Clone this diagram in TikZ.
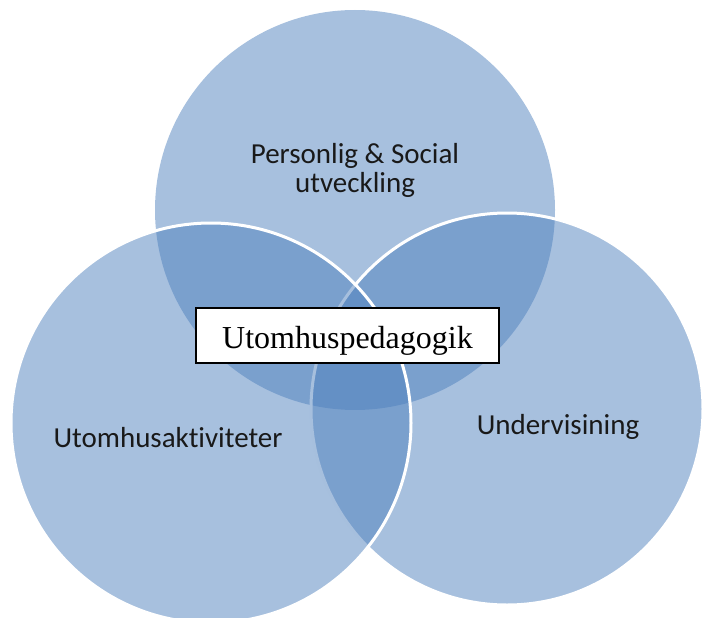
\documentclass[tikz,border=0pt]{standalone}
\usepackage{fontspec}
\newfontfamily\calibrifont[Ligatures=NoCommon]{Carlito}
\newfontfamily\timesfont{Liberation Serif}
\definecolor{vennblue}{RGB}{79,129,189}
\tikzset{venn/.style={fill=vennblue,fill opacity=0.5,draw=white,line width=3pt},
  setlabel/.style={font=\calibrifont\fontsize{29}{29}\selectfont,text=black!90,align=center},
  mainbox/.style={draw=black,line width=1.5pt,fill=white,font=\timesfont\fontsize{32}{36}\selectfont,
    minimum width=303pt,inner ysep=0pt,text height=40pt,text depth=15pt}}

\begin{document}
\begin{tikzpicture}[x=1pt,y=-1pt]
    \useasboundingbox (0,0) rectangle (704,618);
    \fill[venn,draw=none] (355,210) circle [radius=200pt];
    \filldraw[venn] (507,409) circle [radius=196pt];
    \filldraw[venn] (211,423) circle [radius=200pt];
    \node[setlabel,anchor=base] (personal) at (355,192) {Personlig \& Social\\utveckling};
    \node[setlabel,anchor=base] (outdoor) at (168,447) {Utomhusaktiviteter};
    \node[setlabel,anchor=base] (teaching) at (558,434) {Undervisining};
    \node[mainbox] (centre) at (347.5,335.5) {Utomhuspedagogik\hspace{14pt}};
  \end{tikzpicture}
\end{document}
